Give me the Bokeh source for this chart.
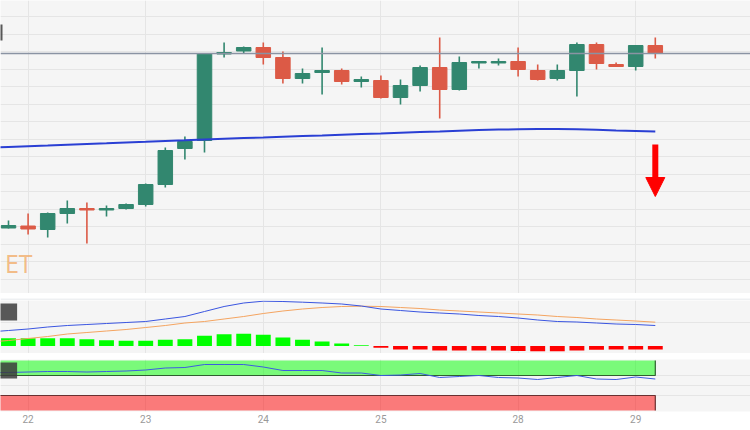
from bokeh.plotting import figure
from bokeh.layouts import column
from bokeh.models import Range1d, FixedTicker, Span, Arrow, NormalHead, BoxAnnotation
from bokeh.embed import file_html
from bokeh.resources import INLINE
from bokeh.core.properties import value

# ---------------- data ----------------
candle_idx = list(range(34))
opens  = [2072.5, 2074.5, 2071, 2087, 2092, 2090.5, 2092, 2096, 2116, 2152, 2160, 2246.5, 2249.5, 2253,
          2243, 2222, 2228, 2230, 2219, 2220, 2203, 2215, 2233, 2211, 2237.5, 2237.5, 2239, 2230,
          2222, 2230, 2256, 2236, 2234, 2255]
highs  = [2080, 2087, 2088, 2100, 2098, 2095, 2097, 2117, 2153, 2164, 2247, 2258, 2254, 2258,
          2249, 2232, 2253, 2232, 2224, 2225, 2221, 2235, 2263, 2244, 2239, 2242, 2253, 2236,
          2236, 2258, 2258, 2238, 2255, 2263]
lows   = [2072, 2066, 2063, 2077, 2057, 2084, 2091, 2094, 2113, 2141, 2148, 2243, 2247, 2236,
          2217, 2217, 2206, 2216, 2213, 2202, 2196, 2209, 2182, 2210, 2232, 2235, 2224, 2220,
          2220, 2204, 2231, 2234, 2230, 2242]
closes = [2075, 2071.5, 2087, 2092, 2090.5, 2092, 2096, 2116, 2150, 2159, 2247, 2248, 2253, 2243,
          2222, 2227, 2230, 2219, 2221, 2203, 2215, 2233, 2211, 2238, 2239, 2239, 2231, 2221,
          2230, 2256, 2237, 2234, 2255, 2247]

line_idx = list(range(-1, 34))
ma_values = [2152.8, 2153.6, 2154.3, 2155, 2155.8, 2156.5, 2157.2, 2158, 2158.7, 2159.5, 2160.2,
             2161, 2161.7, 2162.4, 2163, 2163.7, 2164.4, 2165, 2165.7, 2166.4, 2167, 2167.7,
             2168.4, 2169, 2169.8, 2170.5, 2171, 2171.2, 2171.4, 2171.5, 2171.3, 2170.7, 2170,
             2169.5, 2169]
macd_line = [1.40, 1.55, 1.70, 1.90, 2.05, 2.15, 2.25, 2.35, 2.45, 2.70, 2.95, 3.45, 3.95, 4.30,
             4.48, 4.45, 4.38, 4.30, 4.20, 4.00, 3.70, 3.55, 3.40, 3.30, 3.20, 3.05, 2.95, 2.80,
             2.60, 2.45, 2.40, 2.30, 2.20, 2.15, 2.05]
signal_line = [0.40, 0.55, 0.75, 0.95, 1.20, 1.35, 1.50, 1.65, 1.85, 2.05, 2.30, 2.45, 2.70, 2.95,
               3.25, 3.50, 3.70, 3.85, 3.95, 3.98, 3.95, 3.85, 3.75, 3.60, 3.50, 3.40, 3.30, 3.20,
               3.10, 2.95, 2.85, 2.70, 2.60, 2.50, 2.38]
macd_hist = [0.78, 0.78, 0.78, 0.78, 0.68, 0.58, 0.52, 0.52, 0.62, 0.68, 1.02, 1.18, 1.22, 1.12,
             0.85, 0.62, 0.45, 0.25, 0.08, -0.18, -0.35, -0.35, -0.45, -0.45, -0.45, -0.45, -0.50,
             -0.52, -0.52, -0.45, -0.38, -0.35, -0.35, -0.35]
rsi_values = [76, 76, 77, 78, 78, 77, 78, 79, 81, 85, 86, 92, 92, 92, 87, 80, 80, 80, 75, 75, 70,
              71, 74, 66, 68, 70, 66, 65, 62, 66, 70, 63, 62, 67, 63]

date_ticks = [1, 7, 13, 19, 26, 32, 38]
date_labels = ["22", "23", "24", "25", "28", "29", "30"]

last_price = closes[-1]
arrow_x, arrow_from, arrow_to = 33, 2156, 2104
rsi_overbought, rsi_oversold = 70, 30
wm_text, wm_x, wm_y = "ET", -0.16, 2022

# ---------------- styling helpers ----------------
W = 750
BG = "#f5f5f5"
GRID = "#e5e5e5"
GREEN = "#32876f"
RED = "#dc5a46"

xr = Range1d(-0.408, 37.857)


def panel(h, yr, bg=BG, xloc=None, **kw):
    p = figure(width=W, height=h, x_range=xr, y_range=yr, output_backend="svg",
               toolbar_location=None, x_axis_location=xloc, y_axis_location=None,
               min_border=0, background_fill_color=bg, border_fill_color="white",
               outline_line_color=None, **kw)
    p.xgrid.ticker = FixedTicker(ticks=date_ticks)
    p.xgrid.grid_line_color = GRID
    p.ygrid.grid_line_color = GRID
    return p


# ---------------- main price panel ----------------
main = panel(293, Range1d(2007, 2300))
main.ygrid.ticker = FixedTicker(ticks=[2284 - 17.5 * k for k in range(17)])

main.text(x=[wm_x], y=[wm_y], text=[wm_text], text_align="left", text_baseline="bottom",
          text_font=value("'DejaVu Sans Condensed', 'Liberation Sans Narrow', 'Roboto', sans-serif"),
          text_font_size="24px", text_color="#f2b274", text_alpha=0.85)

main.add_layout(BoxAnnotation(left=-1, right=-0.306, top=2276, bottom=2260, fill_color="#3c3c3c",
                              fill_alpha=0.85, line_color=None))
main.add_layout(Span(location=last_price, dimension="width", line_color="#8a93a3", line_width=1.5))

cols = [GREEN if c >= o else RED for o, c in zip(opens, closes)]
tops = [max(o, c) for o, c in zip(opens, closes)]
bots = [min(o, c) for o, c in zip(opens, closes)]
main.segment(x0=candle_idx, y0=highs, x1=candle_idx, y1=lows, color=cols, line_width=1.6)
main.vbar(x=candle_idx, top=tops, bottom=bots, width=0.74, fill_color=cols, line_color=cols)

main.line(line_idx, ma_values, line_color="#2a3fd4", line_width=2)

main.add_layout(Arrow(end=NormalHead(size=19, fill_color="#ff0000", line_color="#ff0000"),
                      x_start=arrow_x, y_start=arrow_from, x_end=arrow_x, y_end=arrow_to,
                      line_color="#ff0000", line_width=6))


# ---------------- separators ----------------
def separator(h, hy):
    s = figure(width=W, height=h, x_range=xr, y_range=Range1d(0, h), output_backend="svg",
               toolbar_location=None, x_axis_location=None, y_axis_location=None,
               min_border=0, background_fill_color="white", border_fill_color="white",
               outline_line_color=None)
    s.xgrid.visible = False
    s.ygrid.visible = False
    s.add_layout(Span(location=h - 0.5, dimension="width", line_color="#dde1e6", line_width=1))
    s.add_layout(Span(location=0.5, dimension="width", line_color="#dde1e6", line_width=1))
    s.rect(x=[17.45], y=[hy], width=15, height=3, width_units="screen", height_units="screen",
           fill_color="#bdbdbd", line_color="#a8a8a8", line_width=0.5)
    return s


sep1 = separator(7, 3.2)
sep2 = separator(6, 3.0)

# ---------------- MACD panel ----------------
macd = panel(53, Range1d(-0.75, 4.55))
macd.ygrid.ticker = FixedTicker(ticks=[2.35])
hcols = ["#00ff00" if v >= 0 else "#ff0000" for v in macd_hist]
macd.vbar(x=candle_idx, top=macd_hist, bottom=0, width=0.76, fill_color=hcols, line_color=None)
macd.line(line_idx, signal_line, line_color="#f4a460", line_width=1)
macd.line(line_idx, macd_line, line_color="#3a55e0", line_width=1)
macd.add_layout(BoxAnnotation(left=-1, right=0.44, top=4.25, bottom=2.55, fill_color="#3c3c3c",
                              fill_alpha=0.85, line_color=None))

# ---------------- RSI panel ----------------
rsi = panel(71, Range1d(-2, 102), xloc="below", min_border_bottom=19)
rsi.ygrid.ticker = FixedTicker(ticks=[30, 50, 70])
rsi.quad(left=[-1], right=[candle_idx[-1]], top=[100], bottom=[rsi_overbought],
         fill_color="#00ff00", fill_alpha=0.5, line_color=None)
rsi.quad(left=[-1], right=[candle_idx[-1]], top=[rsi_oversold], bottom=[0],
         fill_color="#ff0000", fill_alpha=0.5, line_color=None)
rsi.line(x=[-1, candle_idx[-1], candle_idx[-1]], y=[rsi_overbought, rsi_overbought, 100],
         line_color="#2f5f2f", line_width=1.2)
rsi.line(x=[-1, candle_idx[-1], candle_idx[-1]], y=[rsi_oversold, rsi_oversold, 0],
         line_color="#6a3030", line_width=1.2)
rsi.line(line_idx, rsi_values, line_color="#3d5ce0", line_width=1)
rsi.add_layout(BoxAnnotation(left=-1, right=0.44, top=96, bottom=64, fill_color="#3c3c3c",
                             fill_alpha=0.85, line_color=None))

ax = rsi.xaxis[0]
ax.ticker = FixedTicker(ticks=date_ticks)
ax.major_label_overrides = {t: l for t, l in zip(date_ticks, date_labels)}
ax.axis_line_color = None
ax.major_tick_line_color = None
ax.minor_tick_line_color = None
ax.major_tick_out = 0
ax.major_label_standoff = 3
ax.major_label_text_font = "Roboto"
ax.major_label_text_font_size = "10px"
ax.major_label_text_color = "#999999"

layout = column(main, sep1, macd, sep2, rsi, spacing=0)
open("out.html", "w").write(file_html(layout, INLINE))
